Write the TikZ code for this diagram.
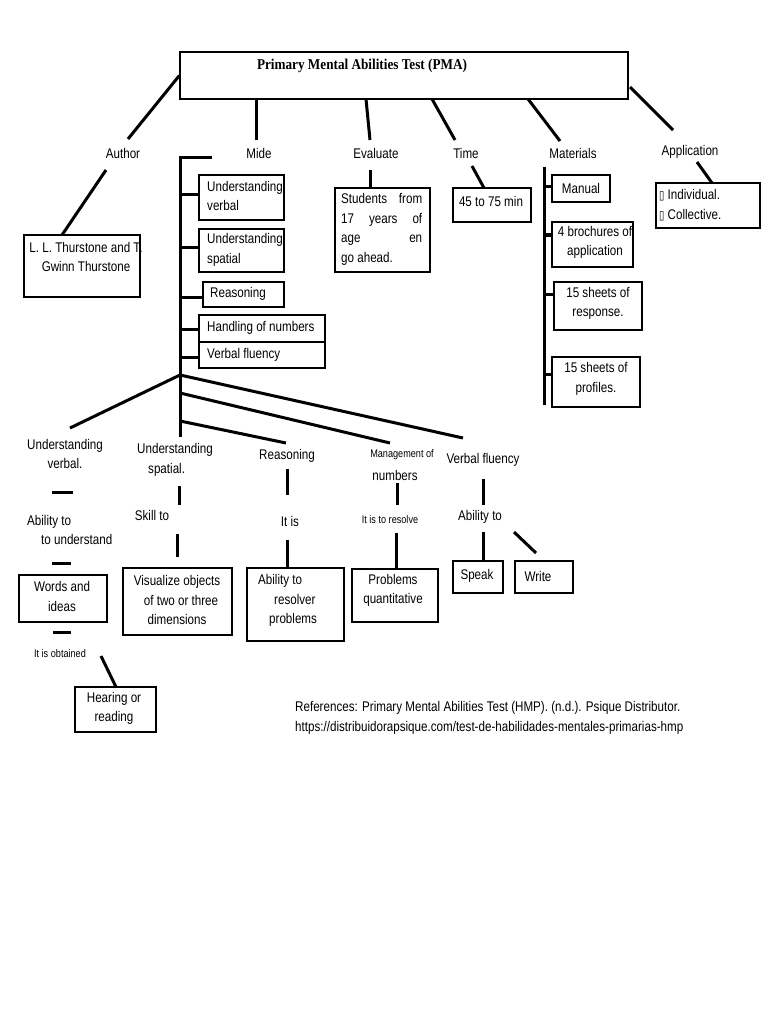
\documentclass[tikz,border=0pt]{standalone}
\usepackage{fontspec}
\setmainfont[FakeStretch=0.83]{Liberation Sans}
\newfontfamily\titlefont[FakeStretch=0.88]{Liberation Serif}
\newfontfamily\symfont[FakeStretch=0.8]{DejaVu Sans}
\usetikzlibrary{fit}
\begin{document}
\begin{tikzpicture}[x=1pt,y=-1pt,font=\fontsize{14}{19.5}\selectfont,
  box/.style={draw,line width=1.2pt,inner sep=0pt},
  txt/.style={inner sep=0pt,align=center},
  ltxt/.style={inner sep=0pt,align=left,anchor=west},
  small/.style={font=\fontsize{11}{13}\selectfont},
  conn/.style={line width=3pt}]
\fill[white] (0,0) rectangle (768,1024);
\useasboundingbox (0,0) rectangle (768,1024);

% ---------- boxes ----------
\node[box,fit={(180,52)(628,99)}] (pma) {};
\node[box,fit={(24,235)(140,297)}] (ll) {};
\node[box,fit={(199,175)(284,220)}] (uvb) {};
\node[box,fit={(199,229)(284,272)}] (usb) {};
\node[box,fit={(203,282)(284,307)}] (reb) {};
\node[box,fit={(199,315)(325,342)}] (hnb) {};
\node[box,fit={(199,342)(325,368)}] (vfb) {};
\node[box,fit={(335,188)(430,272)}] (stb) {};
\node[box,fit={(453,188)(531,222)}] (tmb) {};
\node[box,fit={(552,175)(610,202)}] (mnb) {};
\node[box,fit={(552,222)(633,267)}] (brb) {};
\node[box,fit={(554,282)(642,330)}] (rsb) {};
\node[box,fit={(552,357)(640,407)}] (prb) {};
\node[box,fit={(656,183)(760,228)}] (apb) {};
\node[box,fit={(19,575)(107,622)}] (wib) {};
\node[box,fit={(123,568)(232,635)}] (vob) {};
\node[box,fit={(247,568)(344,641)}] (arb) {};
\node[box,fit={(352,569)(438,622)}] (pqb) {};
\node[box,fit={(453,561)(503,593)}] (spb) {};
\node[box,fit={(515,561)(573,593)}] (wrb) {};
\node[box,fit={(75,687)(156,732)}] (hrb) {};

% ---------- box texts ----------
\node[txt,font=\titlefont\bfseries\fontsize{15}{18}\selectfont] (pmat) at (362,66) {Primary Mental Abilities Test (PMA)};
\node[txt] (llt) at (86,257) {L. L. Thurstone and T.\\Gwinn Thurstone};
\node[ltxt] (uvt) at (207,196) {Understanding\\verbal};
\node[ltxt] (ust) at (207,250) {Understanding\\spatial};
\node[ltxt] (ret) at (210,294) {Reasoning};
\node[ltxt] (hnt) at (207,328) {Handling of numbers};
\node[ltxt] (vft) at (207,355) {Verbal fluency};
\node[ltxt] (stt) at (341,229.5) {\makebox[81pt][s]{Students from}\\\makebox[81pt][s]{17 years of}\\\makebox[81pt][s]{age en}\\go ahead.};
\node[txt] (tmt) at (491,201) {45 to 75 min};
\node[txt] (mnt) at (581,188) {Manual};
\node[txt] (brt) at (595,242.5) {4 brochures of\\application};
\node[txt] (rst) at (598,303.5) {15 sheets of\\response.};
\node[txt] (prt) at (596,379) {15 sheets of\\profiles.};
\node[ltxt] (apt) at (659,205) {{\symfont\fontsize{12}{10}\selectfont ▯} Individual.\\{\symfont\fontsize{12}{10}\selectfont ▯} Collective.};
\node[txt] (wit) at (62,596.5) {Words and\\ideas};
\node[txt] (vot) at (177,600) {Visualize objects\\\hspace*{8pt}of two or three\\dimensions};
\node[ltxt] (art) at (258,600.5) {Ability to\\\hspace*{16pt}resolver\\\hspace*{11pt}problems};
\node[txt] (pqt) at (393,590.5) {Problems\\quantitative};
\node[txt] (spt) at (477,576) {Speak};
\node[txt] (wrt) at (538,576) {Write};
\node[txt] (hrt) at (114,708.5) {Hearing or\\reading};

% ---------- labels ----------
\node[txt] (auth) at (123,153) {Author};
\node[txt] (mide) at (259,153) {Mide};
\node[txt] (eval) at (376,153) {Evaluate};
\node[txt] (time) at (466,153) {Time};
\node[txt] (matl) at (573,153) {Materials};
\node[txt] (appl) at (690,152) {Application};
\node[txt] (uvl) at (65,454) {Understanding\\verbal.};
\node[txt,align=left] (usl) at (175,460) {Understanding\\\hspace*{11pt}spatial.};
\node[txt] (rel) at (287,456) {Reasoning};
\node[txt,small] (mnl) at (402,455) {Management of};
\node[txt] (mnl2) at (395,475) {numbers};
\node[txt] (vfl) at (483,460) {Verbal fluency};
\node[ltxt] (abl1) at (27,530) {Ability to\\\hspace*{14pt}to understand};
\node[txt] (skl) at (152,515) {Skill to};
\node[txt] (itl) at (290,521) {It is};
\node[txt,small] (irl) at (390,520) {It is to resolve};
\node[txt] (abl5) at (480,517) {Ability to};
\node[txt,small] (iol) at (60,654) {It is obtained};
\node[ltxt] (ref) at (295,718) {References: Primary Mental Abilities Test (HMP). (n.d.). Psique Distributor.\\https://distribuidorapsique.com/test-de-habilidades-mentales-primarias-hmp};

% ---------- connector end points ----------
\coordinate (a1) at (128,139);
\coordinate (a2) at (106,170); \coordinate (a3) at (62,235);
\coordinate (m1) at (256,99);  \coordinate (m2) at (256,140);
\coordinate (e1) at (366,99);  \coordinate (e2) at (370,140);
\coordinate (e3) at (370,170); \coordinate (e4) at (370,188);
\coordinate (t1) at (432,99);  \coordinate (t2) at (455,140);
\coordinate (t3) at (472,166); \coordinate (t4) at (484,188);
\coordinate (q1) at (528,99);  \coordinate (q2) at (560,141);
\coordinate (p1) at (630,87);  \coordinate (p2) at (673,130);
\coordinate (p3) at (697,162); \coordinate (p4) at (712,183);
\coordinate (qb1) at (544,167); \coordinate (qb2) at (544,405);
\coordinate (k0) at (212,158); \coordinate (k1) at (180,158); \coordinate (k2) at (180,378);
\coordinate (f0) at (180,375);
\coordinate (fa) at (70,428);  \coordinate (fb) at (180,437);
\coordinate (fc) at (463,438);
\coordinate (fd0) at (180,393); \coordinate (fd) at (390,443);
\coordinate (fe0) at (180,421); \coordinate (fe) at (286,443);
\coordinate (d1a) at (52,492); \coordinate (d1b) at (73,492);
\coordinate (d2a) at (52,563); \coordinate (d2b) at (71,563);
\coordinate (d3a) at (53,632); \coordinate (d3b) at (71,632);
\coordinate (o1) at (101,656); \coordinate (o2) at (116,687);
\coordinate (s1) at (179,486); \coordinate (s2) at (179,505);
\coordinate (s3) at (177,534); \coordinate (s4) at (177,557);
\coordinate (r1) at (287,469); \coordinate (r2) at (287,495);
\coordinate (r3) at (287,540); \coordinate (r4) at (287,568);
\coordinate (n1) at (397,483); \coordinate (n2) at (397,505);
\coordinate (n3) at (396,533); \coordinate (n4) at (396,569);
\coordinate (v1) at (483,479); \coordinate (v2) at (483,505);
\coordinate (v3) at (483,532); \coordinate (v4) at (483,561);
\coordinate (w1) at (514,532); \coordinate (w2) at (536,553);

% ---------- connectors ----------
\draw[conn] (pma.west) -- (a1);
\draw[conn] (a2) -- (a3);
\draw[conn] (m1) -- (m2);
\draw[conn] (e1) -- (e2);
\draw[conn] (e3) -- (e4);
\draw[conn] (t1) -- (t2);
\draw[conn] (t3) -- (t4);
\draw[conn] (q1) -- (q2);
\draw[conn] (p1) -- (p2);
\draw[conn] (p3) -- (p4);
\draw[conn] (qb1) -- (qb2);
\foreach \y/\n in {187/mnb,235/brb,294/rsb,374/prb}
  \draw[conn] (qb1 |- 0,\y) -- (\n.west |- 0,\y);
\draw[conn] (k0) -- (k1) -- (k2);
\foreach \y/\n in {195/uvb,247/usb,297/reb,329/hnb,357/vfb}
  \draw[conn] (k1 |- 0,\y) -- (\n.west |- 0,\y);
\draw[conn] (f0) -- (fa);
\draw[conn] (f0) -- (fb);
\draw[conn] (f0) -- (fc);
\draw[conn] (fd0) -- (fd);
\draw[conn] (fe0) -- (fe);
\draw[conn] (d1a) -- (d1b);
\draw[conn] (d2a) -- (d2b);
\draw[conn] (d3a) -- (d3b);
\draw[conn] (o1) -- (o2);
\draw[conn] (s1) -- (s2);
\draw[conn] (s3) -- (s4);
\draw[conn] (r1) -- (r2);
\draw[conn] (r3) -- (r4);
\draw[conn] (n1) -- (n2);
\draw[conn] (n3) -- (n4);
\draw[conn] (v1) -- (v2);
\draw[conn] (v3) -- (v4);
\draw[conn] (w1) -- (w2);
\end{tikzpicture}
\end{document}
